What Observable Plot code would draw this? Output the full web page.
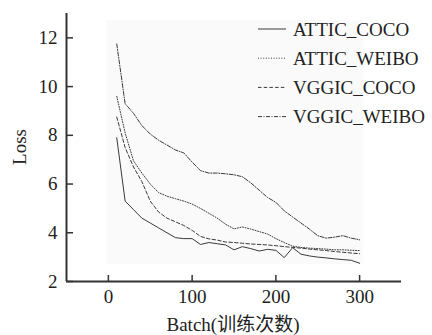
<!DOCTYPE html>
<html><head><meta charset="utf-8">
<script src="https://cdn.jsdelivr.net/npm/d3@7"></script>
<script src="https://cdn.jsdelivr.net/npm/@observablehq/plot@0.6"></script>
<style>body{margin:0;background:#fff}</style>
</head><body><div id="chart"></div>
<script>
const batches = [10,20,30,40,50,60,70,80,90,100,110,120,130,140,150,160,170,180,190,200,210,220,230,240,250,260,270,280,290,300];
const atticCoco = [7.9,5.3,4.95,4.6,4.4,4.2,4.0,3.8,3.76,3.76,3.52,3.6,3.55,3.5,3.3,3.43,3.35,3.25,3.32,3.28,2.98,3.39,3.12,3.05,3.0,2.97,2.93,2.9,2.87,2.75];
const atticWeibo = [9.6,8.1,6.95,6.45,6.0,5.65,5.5,5.4,5.3,5.18,5.0,4.8,4.6,4.35,4.16,4.24,4.15,4.05,3.95,3.76,3.6,3.45,3.4,3.37,3.35,3.33,3.3,3.3,3.28,3.27];
const vggicCoco = [8.75,7.5,6.7,6.1,5.3,4.85,4.6,4.45,4.3,4.1,3.85,3.75,3.7,3.62,3.6,3.57,3.54,3.52,3.5,3.47,3.43,3.4,3.37,3.33,3.3,3.27,3.23,3.2,3.17,3.14];
const vggicWeibo = [11.75,9.3,8.9,8.4,8.05,7.8,7.6,7.4,7.28,6.9,6.55,6.45,6.45,6.42,6.38,6.3,6.05,5.75,5.45,5.25,4.9,4.65,4.4,4.15,3.88,3.78,3.82,3.88,3.78,3.71];
const seriesNames = ["ATTIC_COCO","ATTIC_WEIBO","VGGIC_COCO","VGGIC_WEIBO"];
const seriesValues = [atticCoco, atticWeibo, vggicCoco, vggicWeibo];
const xTicks = [0,100,200,300];
const yTicks = [2,4,6,8,10,12];
const xDomain = [-50,350];
const yDomain = [2,13];
const panelX = [-2,305];
const panelY = [2.7,12.7];

const dashes = ["none","1,1.6","3.5,2.2","4,1.5,1,1.5"];
const ink = "#3a3a3a";
const font = "'Liberation Serif','Times New Roman','Noto Sans CJK SC',serif";

const tables = seriesValues.map((vals, i) => batches.map((b, j) => ({batch: b, loss: vals[j], series: seriesNames[i]})));

const chart = Plot.plot({
  width: 432, height: 335,
  marginLeft: 66, marginRight: 31, marginTop: 13, marginBottom: 54,
  style: {fontFamily: font, fontSize: "19px", color: "#222", background: "#fff"},
  x: {domain: xDomain, ticks: xTicks, tickSize: -6, tickPadding: 14, label: null},
  y: {domain: yDomain, ticks: yTicks, tickSize: -7, tickPadding: 16, label: null},
  marks: [
    Plot.rect([{x1: panelX[0], x2: panelX[1], y1: panelY[0], y2: panelY[1]}], {x1: "x1", x2: "x2", y1: "y1", y2: "y2", fill: "#fafafa"}),
    ...tables.map((t, i) => Plot.line(t, {x: "batch", y: "loss", stroke: ink, strokeWidth: 1, strokeDasharray: dashes[i] === "none" ? undefined : dashes[i]})),
    Plot.axisX({ticks: xTicks, tickSize: -6, tickPadding: 14, stroke: "#333", strokeWidth: 1.5, label: null}),
    Plot.axisY({ticks: yTicks, tickSize: -7, tickPadding: 16, stroke: "#333", strokeWidth: 1.5, label: null}),
    Plot.ruleX([xDomain[0]], {stroke: "#333", strokeWidth: 2}),
    Plot.ruleY([yDomain[0]], {stroke: "#333", strokeWidth: 2})
  ]
});

const svg = d3.select(chart);
// axis titles
svg.append("text").attr("x", 233).attr("y", 331).attr("text-anchor", "middle")
  .style("font-family", font).style("font-size", "19px").attr("fill", "#222").text("Batch(训练次数)");
svg.append("text").attr("transform", "translate(26,147) rotate(-90)").attr("text-anchor", "middle")
  .style("font-family", font).style("font-size", "19px").attr("fill", "#222").text("Loss");
// legend
const lg = svg.append("g");
seriesNames.forEach((name, i) => {
  const y = 29 + i * 29.2;
  lg.append("line").attr("x1", 258).attr("x2", 286).attr("y1", y).attr("y2", y)
    .attr("stroke", ink).attr("stroke-width", 1).attr("stroke-dasharray", dashes[i]);
  lg.append("text").attr("x", 293).attr("y", y).attr("dy", "0.35em").attr("text-anchor", "start")
    .style("font-family", font).style("font-size", "19px").attr("fill", "#222").text(name);
});

document.getElementById("chart").appendChild(chart);
</script>
</body></html>
